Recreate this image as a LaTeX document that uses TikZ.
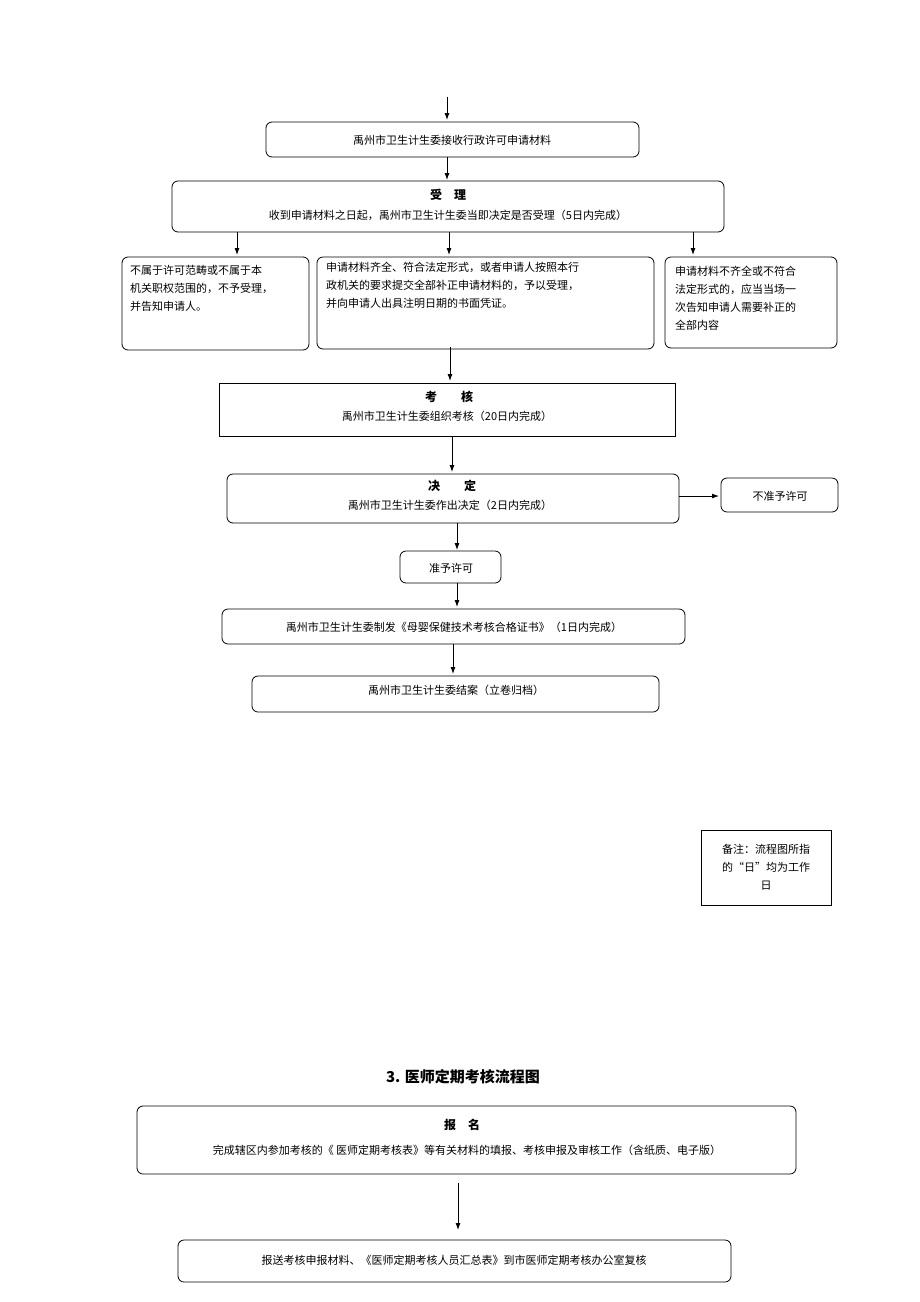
\documentclass[tikz,border=0pt]{standalone}
\usepackage{fontspec}
\setmainfont{Noto Sans CJK SC}
\usetikzlibrary{arrows.meta}
\begin{document}
\begin{tikzpicture}[x=1pt,y=-1pt,
 box/.style={draw,rounded corners=6pt,line width=0.8pt},
 sq/.style={draw,line width=0.8pt},
 arr/.style={-{Latex[length=7pt,width=5pt]},line width=0.9pt},
 t/.style={font=\fontsize{11}{14}\selectfont,inner sep=0},
 tb/.style={font=\fontsize{12}{14}\selectfont\bfseries,inner sep=0},
 p/.style={font=\fontsize{11}{18}\selectfont,inner sep=0,align=left,anchor=north west}]
\useasboundingbox (0,0) rectangle (920,1302);
\coordinate (s0) at (447,97);
\draw[box] (266,122) rectangle (639,157);
\node[t] (b1) at (452,140) {禹州市卫生计生委接收行政许可申请材料};
\draw[arr] (s0) -- (447,120);
\draw[arr] (447,157) -- (447,180);
\draw[box] (172,181) rectangle (724,232);
\node[tb] (b2) at (448,195) {受\quad 理};
\node[t] at (448,215) {收到申请材料之日起，禹州市卫生计生委当即决定是否受理（5日内完成）};
\draw[arr] (237,232) -- (237,255);
\draw[arr] (449,232) -- (449,255);
\draw[arr] (693,232) -- (693,255);
\draw[box] (122,257) rectangle (309,350);
\node[p] (l) at (130,265) {不属于许可范畴或不属于本\\机关职权范围的，不予受理，\\并告知申请人。};
\draw[box] (317,257) rectangle (654,349);
\node[p] (m) at (326,262) {申请材料齐全、符合法定形式，或者申请人按照本行\\政机关的要求提交全部补正申请材料的，予以受理，\\并向申请人出具注明日期的书面凭证。};
\draw[box] (665,257) rectangle (837,348);
\node[p] (r) at (675,266) {申请材料不齐全或不符合\\法定形式的，应当当场一\\次告知申请人需要补正的\\全部内容};
\draw[arr] (450,347) -- (450,381);
\draw[sq] (219,383) rectangle (675,436);
\node[tb] (k) at (449,397) {考\qquad 核};
\node[t] at (447,416) {禹州市卫生计生委组织考核（20日内完成）};
\draw[arr] (452,436) -- (452,472);
\draw[box] (227,474) rectangle (679,523);
\node[tb] (j) at (452,486) {决\qquad 定};
\node[t] at (450,505) {禹州市卫生计生委作出决定（2日内完成）};
\draw[box] (721,478) rectangle (838,512);
\node[t] (bz) at (780,496) {不准予许可};
\draw[arr] (679,496) -- (719,496);
\draw[arr] (457,523) -- (457,550);
\draw[box] (400,551) rectangle (501,583);
\node[t] (zz) at (451,568) {准予许可};
\draw[arr] (457,583) -- (457,607);
\draw[box] (222,609) rectangle (685,644);
\node[t] (zs) at (454,627) {禹州市卫生计生委制发《母婴保健技术考核合格证书》（1日内完成）};
\draw[arr] (453,644) -- (453,674);
\draw[box] (252,676) rectangle (659,712);
\node[t] (ja) at (456,690) {禹州市卫生计生委结案（立卷归档）};
\draw[sq] (701,830) rectangle (831,905);
\node[font=\fontsize{11}{18}\selectfont,inner sep=0,align=center] (bzh) at (766,867) {备注：流程图所指\\的“日”均为工作\\日};
\node[font=\fontsize{15}{18}\selectfont\bfseries,inner sep=0] (tt) at (463,1077) {3. 医师定期考核流程图};
\draw[box] (137,1106) rectangle (796,1174);
\node[tb] (bm) at (462,1125) {报\quad 名};
\node[t] at (467,1150) {完成辖区内参加考核的《 医师定期考核表》等有关材料的填报、考核申报及审核工作（含纸质、电子版）};
\draw[arr] (458,1183) -- (458,1230);
\draw[box] (178,1240) rectangle (731,1282);
\node[t] (bs) at (454,1260) {报送考核申报材料、《医师定期考核人员汇总表》到市医师定期考核办公室复核};
\end{tikzpicture}
\end{document}
